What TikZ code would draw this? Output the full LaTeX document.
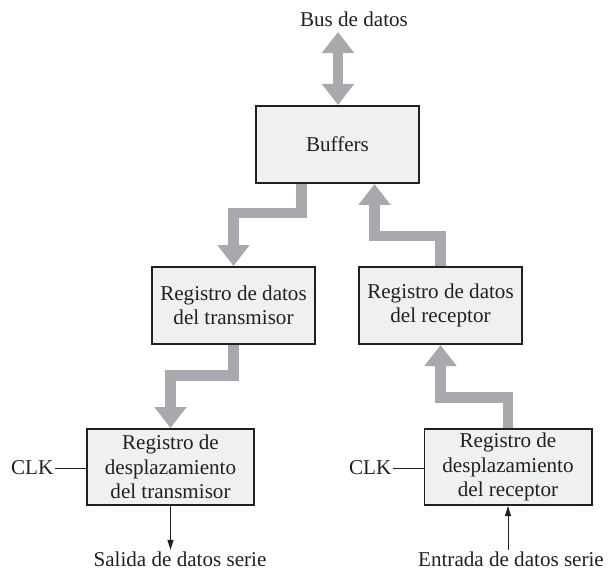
\documentclass[tikz,border=0pt]{standalone}
\usepackage{fontspec}
\setmainfont{Liberation Serif}
\usepackage{xcolor}
\usetikzlibrary{arrows.meta, positioning}
\definecolor{busgray}{RGB}{167, 169, 172}
\definecolor{boxfill}{RGB}{239, 240, 240}
\definecolor{inkblack}{RGB}{35, 31, 32}

\begin{document}
\begin{tikzpicture}[
    x=0.025cm, y=-0.025cm,
    every node/.style={text=inkblack, font=\fontsize{15pt}{17.4pt}\selectfont},
    regbox/.style={rectangle, draw=inkblack, fill=boxfill, line width=1.4pt, minimum width=4.075cm, minimum height=1.925cm, align=center, inner sep=2pt},
    shiftbox/.style={regbox, minimum width=4.175cm, minimum height=1.9cm},
    busarr/.style={-{Triangle[width=0.775cm, length=0.525cm]}, line width=7.4pt, color=busgray, line join=miter},
    sigarr/.style={-{Triangle[width=0.15cm, length=0.25cm]}, line width=0.7pt, color=inkblack},
    label/.style={inner sep=1pt}
]
\useasboundingbox (0,0) rectangle (609,570);

% Boxes
\node[regbox] (buffers) at (337.5,144.5) {Buffers};
\node[regbox] (txreg) at (233.5,305.5) {Registro de datos\\del transmisor};
\node[regbox] (rxreg) at (440.5,305.5) {Registro de datos\\del receptor};
\node[shiftbox] (txshift) at (170.5,467) {Registro de\\desplazamiento\\del transmisor};
\node[shiftbox] (rxshift) at (508,467) {Registro de\\desplazamiento\\del receptor};

% Labels
\node[label] (bus) at (354,19) {Bus de datos};
\coordinate (busend) at (338,32);
\node[label, anchor=east] (clktx) at (55,468) {CLK};
\node[label, anchor=east] (clkrx) at (393,468) {CLK};
\node[label] (salida) at (180,559) {Salida de datos serie};
\node[label] (entrada) at (511,559) {Entrada de datos serie};

% Bus arrows
\draw[busarr, {Triangle[width=0.775cm, length=0.525cm]}-{Triangle[width=0.775cm, length=0.525cm]}] (busend) -- (busend |- buffers.north);
\draw[busarr] ([xshift=-0.9cm]buffers.south) -- ++(0,29) -| (txreg.north);
\draw[busarr] (rxreg.north) -- ++(0,-30) -| ([xshift=0.925cm]buffers.south);
\draw[busarr] (txreg.south) -- ++(0,30.5) -| (txshift.north);
\draw[busarr] (rxshift.north) -- ++(0,-30.5) -| (rxreg.south);

% Serial lines
\draw[line width=0.7pt, color=inkblack] (clktx) -- (clktx -| txshift.west);
\draw[line width=0.7pt, color=inkblack] (clkrx) -- (clkrx -| rxshift.west);
\draw[sigarr] (txshift.south) -- (txshift.south |- salida.north);
\draw[sigarr] (rxshift.south |- entrada.north) -- (rxshift.south);

\end{tikzpicture}
\end{document}
